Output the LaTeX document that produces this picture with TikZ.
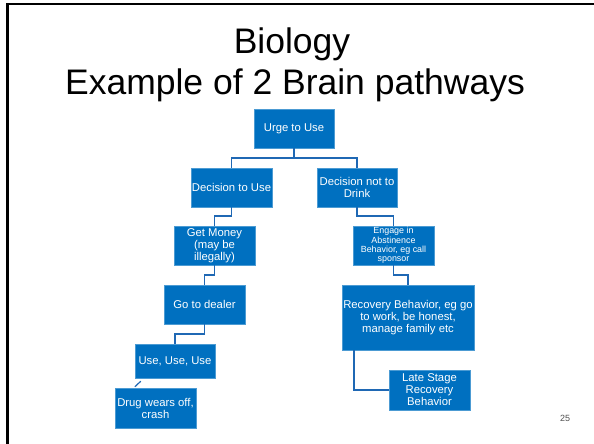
\documentclass[tikz,border=0pt]{standalone}
\usepackage{fontspec}
\setmainfont{Liberation Sans}
\usetikzlibrary{calc}
\definecolor{boxblue}{RGB}{0,112,192}
\definecolor{linkblue}{RGB}{31,104,180}
\definecolor{pagegrey}{RGB}{80,80,80}
\tikzset{
  box/.style={fill=boxblue, draw=boxblue!70!white, line width=0.4pt, inner sep=0pt,
    text=white, align=center, font=\fontsize{11.3}{12}\selectfont},
  link/.style={draw=linkblue, line width=1.5pt},
  heading/.style={anchor=base, font=\fontsize{35.5}{40}\selectfont, inner sep=0pt}
}
\begin{document}
\begin{tikzpicture}[x=1pt, y=-1pt]
\useasboundingbox (0,0) rectangle (594,444);
% slide frame (top and left edges)
\draw[line width=2.2pt] (7.5,445) -- (7.5,4) -- (595,4);

% title
\node[heading] (t1) at (292,53) {Biology};
\node[heading] (t2) at (295,94) {Example of 2 Brain pathways};

% boxes
\node[box, minimum width=80pt, minimum height=39pt] (urge) at (294,128.5) {Urge to Use};
\node[box, minimum width=81pt, minimum height=39pt] (dtu) at (231.5,187.5) {Decision to Use};
\node[box, minimum width=80pt, minimum height=39pt] (dnd) at (357,187.5) {Decision not to\\Drink};
\node[box, minimum width=81pt, minimum height=39pt] (money) at (214.5,245.5) {Get Money\\(may be\\illegally)};
\node[box, minimum width=81pt, minimum height=39pt] (dealer) at (204.5,304.5) {Go to dealer};
\node[box, minimum width=80pt, minimum height=34pt] (use) at (175,361) {Use, Use, Use};
\node[box, minimum width=81pt, minimum height=40pt] (drug) at (155.5,408) {Drug wears off,\\crash};
\node[box, minimum width=81pt, minimum height=39pt, font=\fontsize{8.9}{9.3}\selectfont] (engage) at (393.5,245.5) {Engage in\\Abstinence\\Behavior, eg call\\sponsor};
\node[box, minimum width=132pt, minimum height=65pt] (recov) at (408,317.5) {Recovery Behavior, eg go\\to work, be honest,\\manage family etc};
\node[box, minimum width=81pt, minimum height=40pt] (late) at (429.5,390) {Late Stage\\Recovery\\Behavior};

% connectors
\draw[link] (urge.south) -- (urge.south |- 0,158) -| (dtu.north);
\draw[link] (urge.south |- 0,158) -| (dnd.north);
\draw[link] (dtu.south) -- (dtu.south |- 0,216) -| (money.north);
\draw[link] (money.south) -- (money.south |- 0,275) -| (dealer.north);
\draw[link] (dealer.south) -- (dealer.south |- 0,334) -| (use.north);
\draw[link, line width=1.2pt] ($(use.south west)+(6,3)$) -- ($(drug.north west)+(20,-1)$);
\draw[link] (dnd.south) -- (dnd.south |- 0,216) -| (engage.north);
\draw[link] (engage.south) -- (engage.south |- 0,275) -| (recov.north);
\draw[link] ($(recov.south west)+(12,0)$) |- (late.west);

% page number
\node[text=pagegrey, font=\fontsize{9}{10}\selectfont, inner sep=0pt] (pnum) at (565,418) {25};
\end{tikzpicture}
\end{document}
